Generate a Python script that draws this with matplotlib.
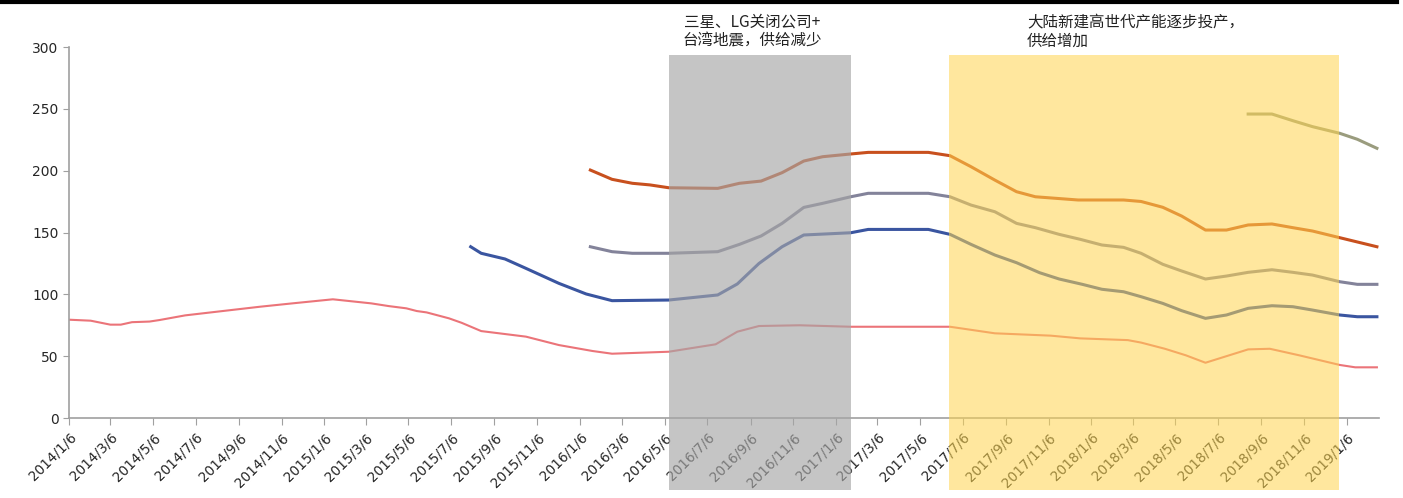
import pandas as pd
import matplotlib
matplotlib.use("Agg")
import matplotlib.pyplot as plt
from matplotlib.lines import Line2D

plt.rcParams['font.family'] = ['DejaVu Sans', 'Noto Sans CJK SC']

# pink series (longest history)
pink_dates = ["2014-01-06", "2014-02-06", "2014-03-06", "2014-03-21", "2014-04-06", "2014-05-01",
              "2014-05-15", "2014-06-21", "2014-08-18", "2014-10-06", "2014-11-21", "2015-01-18",
              "2015-03-14", "2015-04-08", "2015-05-03", "2015-05-18", "2015-06-01", "2015-07-03",
              "2015-07-21", "2015-08-18", "2015-10-21", "2015-12-07", "2016-01-24", "2016-02-21",
              "2016-05-12", "2016-07-18", "2016-08-18", "2016-09-18", "2016-11-15", "2017-01-27",
              "2017-06-18", "2017-08-21", "2017-11-09", "2017-12-21", "2018-02-27", "2018-03-18",
              "2018-04-21", "2018-05-21", "2018-06-18", "2018-08-18", "2018-09-18", "2018-10-30",
              "2018-12-27", "2019-01-18", "2019-02-18"]
pink_vals = [79.5, 78.7, 75.5, 75.5, 77.5, 78.0,
             79.2, 83.0, 86.8, 90.0, 92.7, 96.0,
             92.7, 90.5, 88.7, 86.5, 85.4, 80.6,
             77.0, 70.3, 65.8, 59.0, 54.2, 52.0,
             53.6, 59.6, 69.8, 74.4, 75.0, 73.8,
             73.8, 68.5, 66.6, 64.4, 63.0, 61.0,
             56.0, 50.7, 44.7, 55.5, 56.0, 50.7,
             42.9, 41.0, 41.0]

blue_dates = ["2015-08-03", "2015-08-18", "2015-09-21", "2015-10-21", "2015-12-07", "2016-01-15",
              "2016-02-21", "2016-05-12", "2016-07-21", "2016-08-18", "2016-09-18", "2016-10-21",
              "2016-11-21", "2017-01-27", "2017-02-21", "2017-05-18", "2017-06-18", "2017-07-18",
              "2017-08-21", "2017-09-21", "2017-10-24", "2017-11-21", "2017-12-24", "2018-01-21",
              "2018-02-21", "2018-03-18", "2018-04-18", "2018-05-15", "2018-06-18", "2018-07-18",
              "2018-08-18", "2018-09-21", "2018-10-21", "2018-11-18", "2018-12-27", "2019-01-21",
              "2019-02-18"]
blue_vals = [138.5, 133.2, 128.6, 121.0, 108.9, 100.3,
             94.9, 95.4, 99.5, 108.4, 125.0, 138.5,
             148.0, 149.8, 152.5, 152.5, 148.5, 140.4,
             131.8, 125.6, 117.5, 112.4, 108.1, 104.1,
             102.1, 98.1, 92.7, 86.8, 80.6, 83.3,
             88.7, 90.8, 90.0, 87.3, 83.3, 81.9,
             81.9]

grey_dates = ["2016-01-21", "2016-02-21", "2016-03-21", "2016-05-12", "2016-07-21", "2016-08-21",
              "2016-09-21", "2016-10-21", "2016-11-21", "2016-12-18", "2017-01-27", "2017-02-21",
              "2017-05-18", "2017-06-18", "2017-07-18", "2017-08-21", "2017-09-21", "2017-10-18",
              "2017-11-21", "2017-12-21", "2018-01-21", "2018-02-21", "2018-03-18", "2018-04-18",
              "2018-05-15", "2018-06-18", "2018-07-18", "2018-08-18", "2018-09-21", "2018-10-21",
              "2018-11-18", "2018-12-27", "2019-01-21", "2019-02-18"]
grey_vals = [138.5, 134.5, 133.2, 133.2, 134.5, 140.4,
             147.2, 157.4, 170.3, 173.6, 178.9, 181.7,
             181.7, 178.9, 172.2, 166.8, 157.4, 153.9,
             148.5, 144.5, 139.9, 138.0, 133.2, 124.3,
             118.9, 112.4, 114.8, 117.8, 119.9, 117.8,
             115.6, 110.2, 108.1, 108.1]

orange_dates = ["2016-01-21", "2016-02-21", "2016-03-21", "2016-04-15", "2016-05-12", "2016-07-21",
                "2016-08-21", "2016-09-21", "2016-10-21", "2016-11-21", "2016-12-18", "2017-01-27",
                "2017-02-21", "2017-05-18", "2017-06-18", "2017-07-18", "2017-08-21", "2017-09-21",
                "2017-10-18", "2017-12-18", "2018-02-21", "2018-03-18", "2018-04-18", "2018-05-15",
                "2018-06-18", "2018-07-18", "2018-08-18", "2018-09-21", "2018-10-21", "2018-11-18",
                "2018-12-27", "2019-02-18"]
orange_vals = [200.5, 193.0, 189.8, 188.5, 186.2, 185.7,
               189.8, 191.6, 198.4, 207.8, 211.3, 213.5,
               214.8, 214.8, 212.1, 203.2, 192.4, 183.0,
               178.9, 176.3, 176.3, 175.1, 170.4, 163.3,
               152.0, 152.0, 156.1, 156.9, 153.9, 151.2,
               145.8, 138.5]

olive_dates = ["2018-08-18", "2018-09-21", "2018-10-21", "2018-11-18", "2018-12-27", "2019-01-21",
               "2019-02-18"]
olive_vals = [245.8, 245.8, 240.4, 235.6, 230.2, 225.4, 218.1]

# shaded periods and their notes
periods = [("2016-05-12", "2017-01-27"), ("2017-06-17", "2018-12-26")]
notes = ["三星、LG关闭公司+\n台湾地震，供给减少", "大陆新建高世代产能逐步投产，\n供给增加"]

fig = plt.figure(figsize=(14.03, 4.98), dpi=100)
ax = fig.add_axes([0.0492, 0.1606, 0.9337, 0.745])

ax.plot(pd.to_datetime(pink_dates), pink_vals, color='#EB7479', lw=1.5)
ax.plot(pd.to_datetime(blue_dates), blue_vals, color='#3A55A0', lw=2.2)
ax.plot(pd.to_datetime(grey_dates), grey_vals, color='#83839A', lw=2.2)
ax.plot(pd.to_datetime(orange_dates), orange_vals, color='#C8501E', lw=2.2)
ax.plot(pd.to_datetime(olive_dates), olive_vals, color='#9A9C7E', lw=2.2)

ax.set_ylim(0, 300)
ax.set_yticks(range(0, 301, 50))
ax.set_xlim(pd.Timestamp("2014-01-06"), pd.Timestamp("2019-02-21"))
ticks = pd.date_range("2014-01-01", "2019-01-06", freq="2MS") + pd.Timedelta(days=5)
ax.set_xticks(ticks)
ax.set_xticklabels([f"{d.year}/{d.month}/{d.day}" for d in ticks], rotation=45,
                   ha='right', va='top', rotation_mode='anchor', fontsize=9.8, color='#262626')
ax.tick_params(axis='y', labelsize=10, colors='#262626', length=4, color='#A0A0A0')
ax.tick_params(axis='x', length=5, color='#A0A0A0', pad=4)

for side in ['top', 'right']:
    ax.spines[side].set_visible(False)
for side in ['left', 'bottom']:
    ax.spines[side].set_color('#A0A0A0')
    ax.spines[side].set_linewidth(1.2)

# shaded bands reach past the axes, over the tick labels
ax.axvspan(pd.Timestamp(periods[0][0]), pd.Timestamp(periods[0][1]), ymin=-0.194, ymax=0.978,
           color='#A6A6A6', alpha=0.65, lw=0, clip_on=False, zorder=3)
ax.axvspan(pd.Timestamp(periods[1][0]), pd.Timestamp(periods[1][1]), ymin=-0.194, ymax=0.978,
           color='#FFD54F', alpha=0.55, lw=0, clip_on=False, zorder=3)

fig.text(752 / 1403, 1 - 32 / 498, notes[0], ha='center', va='center', fontsize=11.2,
         family=['Noto Sans CJK SC'], linespacing=1.15, color='#222222')
fig.text(1027 / 1403, 1 - 32 / 498, notes[1], ha='left', va='center', fontsize=11.2,
         family=['Noto Sans CJK SC'], linespacing=1.15, color='#222222')

fig.add_artist(Line2D([0, 0.996], [0.996, 0.996], color='black', lw=3))

fig.savefig("out.png", dpi=100)
